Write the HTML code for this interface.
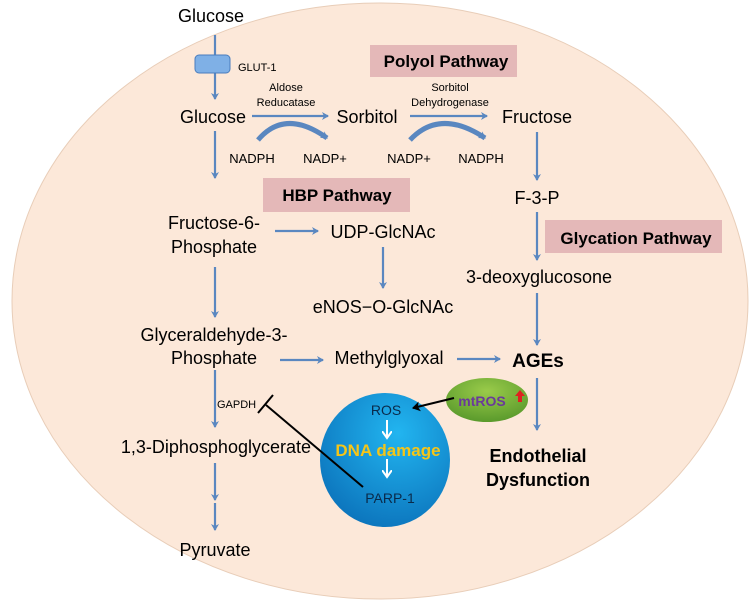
<!DOCTYPE html>
<html><head><style>body{margin:0;background:#fff}svg{display:block}text{font-family:"Liberation Sans",sans-serif}</style></head>
<body>
<svg width="750" height="603" viewBox="0 0 750 603" xmlns="http://www.w3.org/2000/svg">
<defs>
<marker id="a" markerWidth="8" markerHeight="8" refX="6" refY="4" orient="auto" markerUnits="userSpaceOnUse"><path d="M0,0 L7,4 L0,8 L2,4 Z" fill="#5a87c0"/></marker>
<marker id="k" markerWidth="10" markerHeight="10" refX="7" refY="5" orient="auto" markerUnits="userSpaceOnUse"><path d="M0,0 L8,5 L0,10 L2,5 Z" fill="#000"/></marker>
<marker id="w" markerWidth="10" markerHeight="10" refX="6" refY="5" orient="auto" markerUnits="userSpaceOnUse"><path d="M0,0 L7,5 L0,10" fill="none" stroke="#fff" stroke-width="2"/></marker>
<radialGradient id="bg" cx="0.6" cy="0.3" r="0.8"><stop offset="0" stop-color="#22b5f0"/><stop offset="1" stop-color="#0a6fb8"/></radialGradient>
<radialGradient id="gg" cx="0.5" cy="0.3" r="0.7"><stop offset="0" stop-color="#9acb4a"/><stop offset="1" stop-color="#5a9a2c"/></radialGradient>
</defs>
<ellipse cx="380" cy="301" rx="368" ry="298" fill="#fce8d9" stroke="#e8cdb8" stroke-width="1"/>
<g stroke="#5a87c0" stroke-width="2.2" fill="none" marker-end="url(#a)">
<line x1="215" y1="35" x2="215" y2="99"/>
<line x1="252" y1="116" x2="328" y2="116"/>
<line x1="410" y1="116" x2="487" y2="116"/>
<line x1="215" y1="131" x2="215" y2="178"/>
<line x1="275" y1="231" x2="318" y2="231"/>
<line x1="383" y1="247" x2="383" y2="288"/>
<line x1="215" y1="267" x2="215" y2="317"/>
<line x1="280" y1="360" x2="323" y2="360"/>
<line x1="457" y1="359" x2="500" y2="359"/>
<line x1="537" y1="132" x2="537" y2="180"/>
<line x1="537" y1="212" x2="537" y2="260"/>
<line x1="537" y1="293" x2="537" y2="345"/>
<line x1="537" y1="378" x2="537" y2="430"/>
<line x1="215" y1="370" x2="215" y2="427"/>
<line x1="215" y1="463" x2="215" y2="500"/>
<line x1="215" y1="503" x2="215" y2="530"/>
</g>
<g stroke="#5a87c0" stroke-width="5" fill="none" marker-end="url(#a)">
<path d="M258,140 Q285,108 327,138"/>
<path d="M410,140 Q440,108 485,138"/>
</g>
<rect x="195" y="55" width="35" height="18" rx="4" fill="#7fb0e6" stroke="#4a7dbd"/>
<rect x="370" y="45" width="147" height="32" fill="#e4b8b8"/>
<rect x="263" y="178" width="147" height="34" fill="#e4b8b8"/>
<rect x="545" y="220" width="177" height="33" fill="#e4b8b8"/>
<ellipse cx="385" cy="460" rx="65" ry="67" fill="url(#bg)"/>
<ellipse cx="487" cy="400" rx="41" ry="22" fill="url(#gg)"/>
<line x1="363" y1="487" x2="266" y2="405" stroke="#000" stroke-width="2"/>
<line x1="258" y1="413" x2="273" y2="395" stroke="#000" stroke-width="2"/>
<line x1="454" y1="398" x2="413" y2="408" stroke="#000" stroke-width="2" marker-end="url(#k)"/>
<g stroke="#fff" stroke-width="2" marker-end="url(#w)"><line x1="387" y1="420" x2="387" y2="437"/><line x1="387" y1="459" x2="387" y2="476"/></g>
<g font-size="18" fill="#000" text-anchor="middle">
<text x="211" y="22">Glucose</text>
<text x="213" y="123">Glucose</text>
<text x="367" y="123">Sorbitol</text>
<text x="537" y="123">Fructose</text>
<text x="214" y="229">Fructose-6-</text>
<text x="214" y="253">Phosphate</text>
<text x="383" y="238">UDP-GlcNAc</text>
<text x="383" y="313">eNOS−O-GlcNAc</text>
<text x="214" y="341">Glyceraldehyde-3-</text>
<text x="214" y="364">Phosphate</text>
<text x="389" y="364">Methylglyoxal</text>
<text x="537" y="204">F-3-P</text>
<text x="539" y="283">3-deoxyglucosone</text>
<text x="311" y="453" text-anchor="end">1,3-Diphosphoglycerate</text>
<text x="215" y="556">Pyruvate</text>
</g>
<g font-size="13" text-anchor="middle" fill="#000">
<text x="252" y="163">NADPH</text><text x="325" y="163">NADP+</text>
<text x="409" y="163">NADP+</text><text x="481" y="163">NADPH</text>
</g>
<g font-size="11" text-anchor="middle" fill="#000">
<text x="286" y="91">Aldose</text><text x="286" y="106">Reducatase</text>
<text x="450" y="91">Sorbitol</text><text x="450" y="106">Dehydrogenase</text>
<text x="238" y="71" text-anchor="start">GLUT-1</text>
<text x="217" y="408" text-anchor="start">GAPDH</text>
</g>
<g font-size="17" font-weight="bold" text-anchor="middle" fill="#000">
<text x="446" y="67">Polyol Pathway</text>
<text x="337" y="201">HBP Pathway</text>
<text x="636" y="244">Glycation Pathway</text>
<text x="538" y="462" font-size="18">Endothelial</text>
<text x="538" y="486" font-size="18">Dysfunction</text>
<text x="538" y="367" font-size="19">AGEs</text>
</g>
<g font-size="14" text-anchor="middle" fill="#0a2a4a">
<text x="386" y="415">ROS</text><text x="390" y="503">PARP-1</text>
</g>
<text x="388" y="456" font-size="17" font-weight="bold" fill="#f5c518" text-anchor="middle">DNA damage</text>
<text x="482" y="406" font-size="14" font-weight="bold" fill="#6a3a9a" text-anchor="middle">mtROS</text>
<path d="M518,402 L518,396 L515,396 L520,390 L525,396 L522,396 L522,402 Z" fill="#e02020"/>
</svg>
</body></html>
